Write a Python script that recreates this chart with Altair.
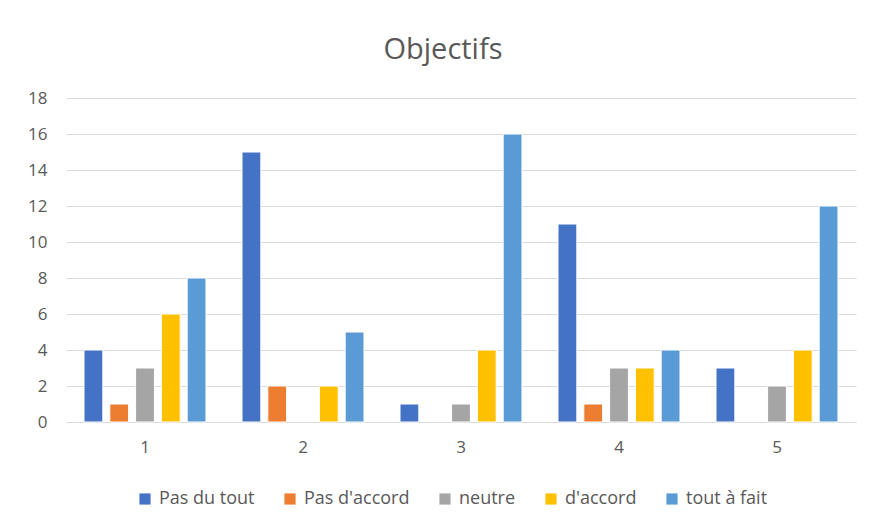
import altair as alt
import pandas as pd

groups = ["1", "2", "3", "4", "5"]
series = ["Pas du tout", "Pas d'accord", "neutre", "d'accord", "tout à fait"]
colors = ["#4472C4", "#ED7D31", "#A5A5A5", "#FFC000", "#5B9BD5"]
pas_du_tout = [4, 15, 1, 11, 3]
pas_daccord = [1, 2, 0, 1, 0]
neutre = [3, 0, 1, 3, 2]
daccord = [6, 2, 4, 3, 4]
tout_a_fait = [8, 5, 16, 4, 12]

vals = [pas_du_tout, pas_daccord, neutre, daccord, tout_a_fait]
rows = []
for s, v in zip(series, vals):
    for g, x in zip(groups, v):
        rows.append({"groupe": g, "serie": s, "valeur": x})
df = pd.DataFrame(rows)

FONT = "Open Sans"
GREY = "#595959"

chart = alt.Chart(df).transform_filter("datum.valeur > 0").mark_bar(
    stroke="white", strokeWidth=1
).encode(
    x=alt.X("groupe:N", sort=groups, title=None,
            scale=alt.Scale(paddingInner=0.228, paddingOuter=0.114),
            axis=alt.Axis(labelAngle=0, ticks=False, domainColor="#D9D9D9",
                          labelColor=GREY, labelFontSize=17, labelFont=FONT,
                          labelPadding=17, grid=False)),
    xOffset=alt.XOffset("serie:N", sort=series,
                        scale=alt.Scale(paddingInner=0.27, paddingOuter=0)),
    y=alt.Y("valeur:Q", title=None,
            scale=alt.Scale(domain=[0, 18]),
            axis=alt.Axis(values=list(range(0, 19, 2)), ticks=False, domain=False,
                          gridColor="#D9D9D9", labelColor=GREY, labelFontSize=17,
                          labelFont=FONT, labelPadding=19)),
    color=alt.Color("serie:N", sort=series,
                    scale=alt.Scale(domain=series, range=colors),
                    legend=alt.Legend(title=None, orient="none", direction="horizontal",
                                      legendX=70, legendY=392,
                                      symbolType="square", symbolSize=125,
                                      symbolStrokeWidth=0,
                                      labelColor=GREY, labelFontSize=18, labelFont=FONT,
                                      labelOffset=5, columnPadding=26)),
).properties(
    width=790, height=324,
    background="white",
    title=alt.Title("Objectifs", fontSize=29, font=FONT, color=GREY,
                    fontWeight="normal", offset=24, anchor="middle", dx=-18),
    autosize=alt.AutoSizeParams(type="none"),
    padding={"left": 58, "top": 90, "right": 10, "bottom": 96},
).configure_view(strokeWidth=0, stroke="transparent")

chart.save("out.html", embed_options={"renderer": "svg", "actions": False})
